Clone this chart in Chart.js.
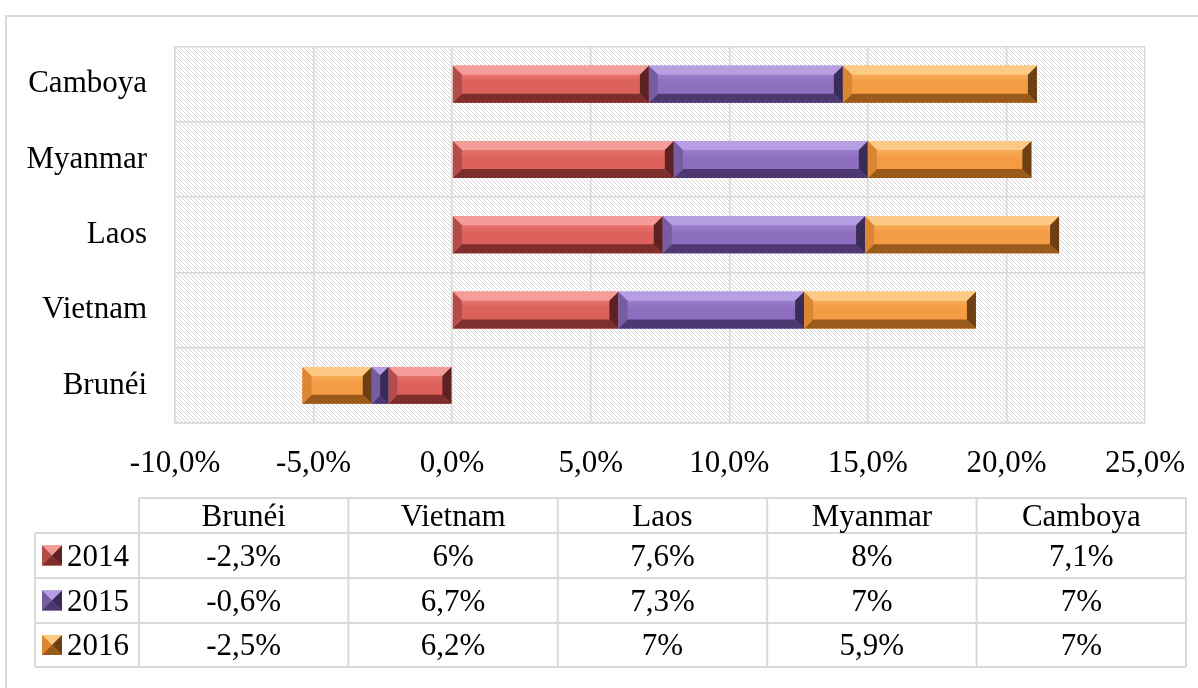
<!DOCTYPE html>
<html>
<head>
<meta charset="utf-8">
<script src="https://cdn.jsdelivr.net/npm/chart.js@4.4.1/dist/chart.umd.min.js"></script>
<style>
  html, body { margin: 0; padding: 0; background: #fff; }
  canvas { display: block; }
</style>
</head>
<body>
<canvas id="chart" width="1198" height="688"></canvas>
<script>
const categories = ['Brunéi', 'Vietnam', 'Laos', 'Myanmar', 'Camboya'];
const seriesNames = ['2014', '2015', '2016'];
const s2014 = [-2.3, 6, 7.6, 8, 7.1];
const s2015 = [-0.6, 6.7, 7.3, 7, 7];
const s2016 = [-2.5, 6.2, 7, 5.9, 7];
const xTicks = [-10, -5, 0, 5, 10, 15, 20, 25];

const FONT = 'Liberation Serif';
const GRID = '#d9d9d9';

// bevel shades per series: face, top, bottom, left, right
const shades = [
  {face: '#dc605c', hi: '#f08a86', top: '#f49c98', bottom: '#7e2f2d', left: '#b44c49', right: '#5c2120'},
  {face: '#8e6fbf', hi: '#a98ed6', top: '#b69ee2', bottom: '#4d3872', left: '#765da2', right: '#3a2b57'},
  {face: '#f49c44', hi: '#fbbd70', top: '#fdca85', bottom: '#9a5a1c', left: '#db8633', right: '#6e3f12'}
];

const fmtPct = v => String(v).replace('.', ',') + '%';
const fmtTick = v => v.toFixed(1).replace('.', ',') + '%';

function poly(ctx, color, pts) {
  ctx.beginPath();
  ctx.moveTo(pts[0][0], pts[0][1]);
  for (let i = 1; i < pts.length; i++) ctx.lineTo(pts[i][0], pts[i][1]);
  ctx.closePath();
  ctx.fillStyle = color;
  ctx.fill();
}

function bevelRect(ctx, l, t, w, h, c, bMax) {
  const r = l + w, btm = t + h;
  const b = Math.min(bMax, w / 2, h / 2);
  const g = ctx.createLinearGradient(0, t, 0, btm);
  g.addColorStop(0, c.hi);
  g.addColorStop(0.45, c.face);
  g.addColorStop(1, c.face);
  ctx.fillStyle = g;
  ctx.fillRect(l, t, w, h);
  poly(ctx, c.top, [[l, t], [r, t], [r - b, t + b], [l + b, t + b]]);
  poly(ctx, c.bottom, [[l, btm], [r, btm], [r - b, btm - b], [l + b, btm - b]]);
  poly(ctx, c.left, [[l, t], [l + b, t + b], [l + b, btm - b], [l, btm]]);
  poly(ctx, c.right, [[r, t], [r - b, t + b], [r - b, btm - b], [r, btm]]);
}

function hatchPattern(ctx) {
  const p = document.createElement('canvas');
  p.width = 8; p.height = 8;
  const pc = p.getContext('2d');
  pc.fillStyle = '#fff';
  pc.fillRect(0, 0, 8, 8);
  pc.fillStyle = '#d4d4d4';
  for (let y = 0; y < 8; y++) {
    for (let x = 0; x < 8; x++) {
      if (((x - y) % 4 + 4) % 4 === 0) pc.fillRect(x, y, 1, 1);
    }
  }
  return ctx.createPattern(p, 'repeat');
}

const bevelPlugin = {
  id: 'bevel',
  beforeDraw(chart) {
    const {ctx, chartArea: a} = chart;
    ctx.save();
    ctx.strokeStyle = GRID;
    ctx.lineWidth = 2;
    ctx.strokeRect(6, 16, 1400, 900);
    ctx.fillStyle = hatchPattern(ctx);
    ctx.fillRect(a.left, a.top, a.right - a.left, a.bottom - a.top);
    ctx.restore();
  },
  afterDatasetsDraw(chart) {
    const ctx = chart.ctx;
    ctx.save();
    chart.data.datasets.forEach((ds, di) => {
      chart.getDatasetMeta(di).data.forEach(el => {
        const p = el.getProps(['x', 'y', 'base', 'height'], true);
        const l = Math.min(p.x, p.base), w = Math.abs(p.x - p.base);
        bevelRect(ctx, l, p.y - p.height / 2, w, p.height, shades[di], 9);
      });
    });
    ctx.restore();
  },
  afterDraw(chart) {
    const ctx = chart.ctx;
    const series = [s2014, s2015, s2016];
    const left = 139, right = 1186, keyLeft = 35;
    const colW = (right - left) / categories.length;
    const rows = [498, 533, 578, 623, 667];
    ctx.save();
    ctx.strokeStyle = GRID;
    ctx.lineWidth = 2;
    ctx.beginPath();
    ctx.moveTo(left, rows[0]); ctx.lineTo(right, rows[0]);
    for (let i = 1; i < rows.length; i++) {
      ctx.moveTo(keyLeft, rows[i]); ctx.lineTo(right, rows[i]);
    }
    ctx.moveTo(keyLeft, rows[1]); ctx.lineTo(keyLeft, rows[4]);
    for (let c = 0; c <= categories.length; c++) {
      const x = left + c * colW;
      ctx.moveTo(x, rows[0]); ctx.lineTo(x, rows[4]);
    }
    ctx.stroke();

    ctx.fillStyle = '#000';
    ctx.font = '31px "' + FONT + '"';
    ctx.textBaseline = 'alphabetic';
    ctx.textAlign = 'center';
    categories.forEach((cat, c) => {
      const cx = left + (c + 0.5) * colW;
      ctx.fillText(cat, cx, (rows[0] + rows[1]) / 2 + 10);
      series.forEach((vals, si) => {
        ctx.fillText(fmtPct(vals[c]), cx, (rows[si + 1] + rows[si + 2]) / 2 + 10);
      });
    });
    ctx.textAlign = 'left';
    seriesNames.forEach((name, si) => {
      const cy = (rows[si + 1] + rows[si + 2]) / 2;
      const s = shades[si];
      const kx = 42, ky = cy - 10, k = 20, m = k / 2;
      ctx.fillStyle = s.face;
      ctx.fillRect(kx, ky, k, k);
      poly(ctx, s.top, [[kx, ky], [kx + k, ky], [kx + m, ky + m]]);
      poly(ctx, s.left, [[kx, ky], [kx + m, ky + m], [kx, ky + k]]);
      poly(ctx, s.right, [[kx + k, ky], [kx + m, ky + m], [kx + k, ky + k]]);
      poly(ctx, s.bottom, [[kx, ky + k], [kx + m, ky + m], [kx + k, ky + k]]);
      ctx.fillStyle = '#000';
      ctx.fillText(name, 67, cy + 10);
    });
    ctx.restore();
  }
};

new Chart(document.getElementById('chart'), {
  type: 'bar',
  data: {
    labels: categories,
    datasets: [
      {label: seriesNames[0], data: s2014, backgroundColor: shades[0].face},
      {label: seriesNames[1], data: s2015, backgroundColor: shades[1].face},
      {label: seriesNames[2], data: s2016, backgroundColor: shades[2].face}
    ]
  },
  options: {
    indexAxis: 'y',
    responsive: false,
    animation: false,
    events: [],
    barPercentage: 0.49,
    categoryPercentage: 1,
    layout: {padding: {left: 0, top: 45, right: 53, bottom: 205}},
    plugins: {legend: {display: false}, tooltip: {enabled: false}},
    scales: {
      x: {
        stacked: true,
        min: xTicks[0],
        max: xTicks[xTicks.length - 1],
        afterBuildTicks: s => { s.ticks = xTicks.map(v => ({value: v})); },
        afterFit: s => { s.height = 60; s.paddingLeft = 0; s.paddingRight = 0; },
        grid: {color: GRID, lineWidth: 1.5, drawTicks: false},
        border: {display: true, color: GRID, width: 1.5},
        ticks: {
          padding: 22,
          color: '#000',
          font: {family: FONT, size: 31},
          maxRotation: 0,
          autoSkip: false,
          callback: v => fmtTick(v)
        }
      },
      y: {
        stacked: true,
        reverse: true,
        offset: true,
        afterFit: s => { s.width = 175; },
        grid: {color: GRID, lineWidth: 1.5, drawTicks: false, offset: true},
        border: {display: true, color: GRID, width: 1.5},
        ticks: {
          padding: 28,
          color: '#000',
          font: {family: FONT, size: 31}
        }
      }
    }
  },
  plugins: [bevelPlugin]
});
</script>
</body>
</html>
